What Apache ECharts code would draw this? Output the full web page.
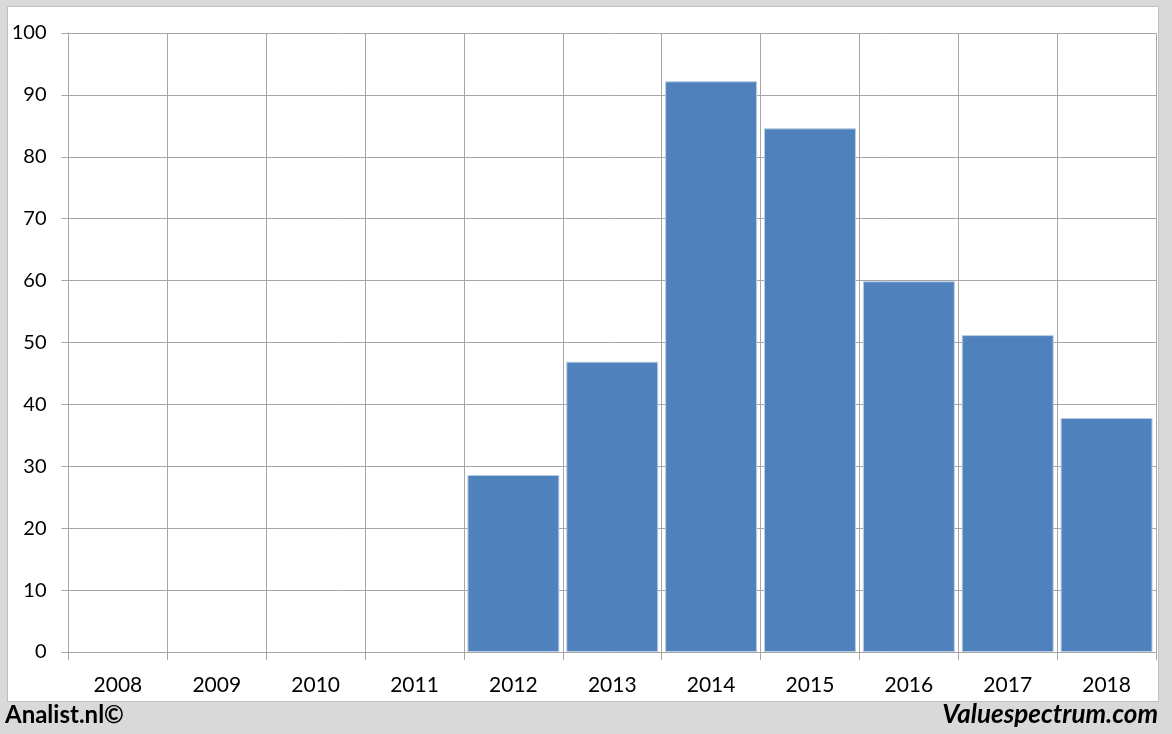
<!DOCTYPE html>
<html><head><meta charset="utf-8">
<script src="https://cdn.jsdelivr.net/npm/echarts@6/dist/echarts.min.js"></script>
<style>html,body{margin:0;padding:0;background:#d9d9d9}#c{width:1172px;height:734px}</style>
</head><body><div id="c"></div>
<script>
const categories = ['2008','2009','2010','2011','2012','2013','2014','2015','2016','2017','2018'];
const values = [null, null, null, null, 28.6, 46.9, 92.2, 84.6, 59.9, 51.2, 37.8];
const yTicks = [0,10,20,30,40,50,60,70,80,90,100];

const chart = echarts.init(document.getElementById('c'), null, {renderer:'canvas'});
const FONT = 'Lato, "Open Sans", sans-serif';
chart.setOption({
  animation:false,
  backgroundColor:'#d9d9d9',
  graphic:[
    {type:'rect', shape:{x:7.5,y:6.5,width:1151,height:695}, style:{fill:'#ffffff', stroke:'#bfbfbf', lineWidth:1}, z:-10},
    {type:'text', left:5, top:703, style:{text:'Analist.nl©', font:'bold 24px '+FONT, fill:'#000'}},
    {type:'text', right:14, top:702, style:{text:'Valuespectrum.com', font:'italic bold 26px '+FONT, fill:'#000'}}
  ],
  grid:{left:68.5, right:16, top:33, bottom:82, containLabel:false},
  xAxis:{
    type:'category', data:categories, boundaryGap:true,
    axisLine:{show:true, lineStyle:{color:'#a6a6a6', width:1}},
    axisTick:{show:true, length:8, lineStyle:{color:'#a6a6a6'}, alignWithLabel:false},
    axisLabel:{color:'#000', fontSize:21, fontFamily:FONT, margin:23},
    splitLine:{show:true, lineStyle:{color:'#a6a6a6', width:1}}
  },
  yAxis:{
    type:'value', min:0, max:100, interval:10,
    axisLine:{show:true, lineStyle:{color:'#a6a6a6', width:1}},
    axisTick:{show:true, length:7, lineStyle:{color:'#a6a6a6'}},
    axisLabel:{color:'#000', fontSize:20, fontFamily:FONT, margin:22,
      formatter:v=>yTicks.includes(v)?String(v):''},
    splitLine:{show:true, lineStyle:{color:'#a6a6a6', width:1}}
  },
  series:[{
    type:'bar', data:values, barCategoryGap:'7%',
    itemStyle:{color:'#4f81bd', borderColor:'#b9cde5', borderWidth:1}
  }]
});
</script></body></html>
